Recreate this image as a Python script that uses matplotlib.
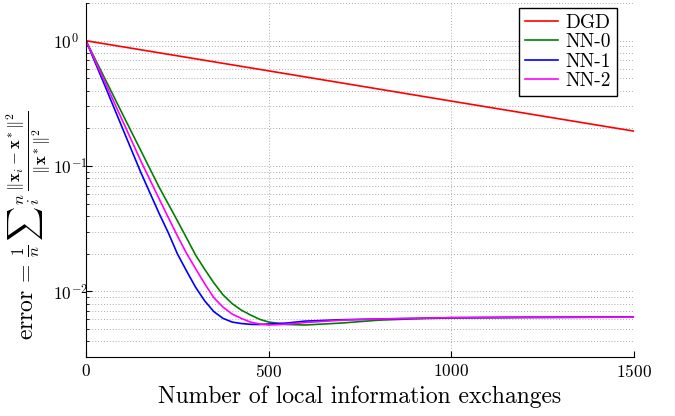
import numpy as np
import matplotlib
matplotlib.use('Agg')
import matplotlib.pyplot as plt

# computer modern look like the latex/matlab original
plt.rcParams['font.family'] = 'cmr10'
plt.rcParams['mathtext.fontset'] = 'cm'
plt.rcParams['axes.formatter.use_mathtext'] = True

# data
steps = [0, 50, 100, 150, 200, 225, 250, 275, 300, 325, 350, 375, 400, 425, 450, 475, 500,
         550, 600, 700, 800, 900, 1000, 1200, 1500]
dgd_x = [0, 500, 1000, 1500]
dgd = [1.0, 0.575, 0.33, 0.19]
nn0 = [1.0, 0.51, 0.26, 0.133, 0.068, 0.050, 0.0367, 0.0268, 0.0195, 0.0150, 0.0117, 0.0094, 0.0080,
       0.0071, 0.0065, 0.0060, 0.0057, 0.00545, 0.0054, 0.0056, 0.0059, 0.00605, 0.00615, 0.0062, 0.00624]
nn1 = [1.0, 0.45, 0.20, 0.089, 0.042, 0.0295, 0.020, 0.0146, 0.0108, 0.0084, 0.0069, 0.0061, 0.0057,
       0.00555, 0.00547, 0.00545, 0.0055, 0.0056, 0.0058, 0.00595, 0.00603, 0.0061, 0.00618, 0.00622, 0.00624]
nn2 = [1.0, 0.48, 0.23, 0.11, 0.055, 0.039, 0.0278, 0.0202, 0.0152, 0.0115, 0.0089, 0.0075, 0.0066,
       0.0061, 0.0057, 0.0055, 0.0054, 0.00548, 0.00565, 0.0059, 0.00603, 0.0061, 0.00618, 0.00622, 0.00624]

fig = plt.figure(figsize=(6.75, 4.16), dpi=100)
ax = fig.add_axes([0.1274, 0.1418, 0.812, 0.851])

ax.plot(dgd_x, dgd, color='red', lw=1.2, label='DGD')
ax.plot(steps, nn0, color='green', lw=1.2, label='NN-0')
ax.plot(steps, nn1, color='blue', lw=1.2, label='NN-1')
ax.plot(steps, nn2, color='magenta', lw=1.2, label='NN-2')

ax.set_yscale('log')
ax.set_xlim(0, 1500)
ax.set_ylim(3e-3, 2)
ax.set_xticks([0, 500, 1000, 1500])
ax.set_yticks([1e-2, 1e-1, 1])

gridstyle = dict(ls=(0, (1, 2)), color='#aaaaaa', lw=0.7)
ax.grid(True, which='major', axis='x', **gridstyle)
ax.grid(True, which='both', axis='y', **gridstyle)
ax.set_axisbelow(True)

ax.spines['top'].set_visible(False)
ax.spines['right'].set_visible(False)
ax.tick_params(which='both', direction='in', labelsize=12.5, length=4)
ax.tick_params(which='minor', length=2)
ax.tick_params(axis='x', pad=4)
# y tick labels start at the same x, like the original
ax.tick_params(axis='y', pad=24)
for lab in ax.get_yticklabels():
    lab.set_ha('left')

ax.set_xlabel('Number of local information exchanges', fontsize=17)
ax.xaxis.set_label_coords(0.5, -0.113)
ax.xaxis.label.set_va('center')
ax.set_ylabel(r'$\mathrm{error}\,=\,\frac{1}{n}\,{\sum}_i^n\,\frac{\Vert\mathbf{x}_i-\mathbf{x}^*\Vert^2}{\Vert\mathbf{x}^*\Vert^2}$',
              fontsize=17)
ax.yaxis.set_label_coords(-0.104, 0.373)
ax.yaxis.label.set_va('center')

leg = ax.legend(loc='upper right', bbox_to_anchor=(0.969, 0.986), fontsize=14, fancybox=False,
                framealpha=1, edgecolor='black', handlelength=1.7, handletextpad=0.4,
                borderaxespad=0, labelspacing=0.08, borderpad=0.3)
leg.get_frame().set_linewidth(1.0)

fig.savefig('out.png', dpi=100)
